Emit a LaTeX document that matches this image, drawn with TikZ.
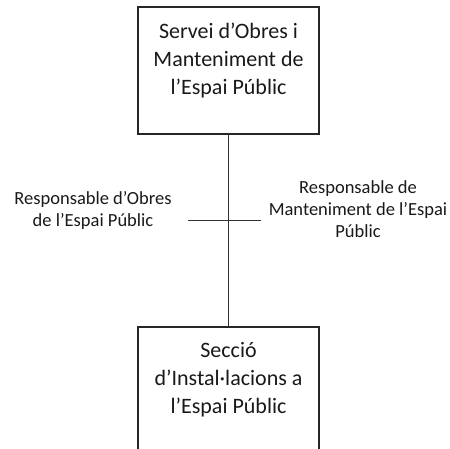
\documentclass[tikz,border=0pt]{standalone}
\usepackage{fontspec}
\setmainfont{Carlito}
\usetikzlibrary{positioning}

\begin{document}
\begin{tikzpicture}[x=1pt,y=-1pt,
      box/.style={draw=black!85,line width=1.3pt,minimum width=181pt,minimum height=127pt,inner sep=0pt},
      boxtext/.style={align=center,font=\fontsize{22}{28}\selectfont,inner sep=0pt,text=black!90},
      role/.style={align=center,font=\fontsize{18.5}{22}\selectfont,inner sep=0pt,text=black!90},
      link/.style={draw=black!80,line width=1pt}]
      \useasboundingbox (0,0) rectangle (450,449);
      \clip (0,0) rectangle (450,449);
      \node[box] (servei) at (228.5,70.5) {};
      \node[box] (seccio) at (228.5,390.5) {};
      \node[boxtext,anchor=north] (servei_t) at ([yshift=-16pt]servei.north) {Servei d’Obres i\\Manteniment de\\l’Espai Públic};
      \node[boxtext,anchor=north] (seccio_t) at ([yshift=-16pt]seccio.north) {Secció\\d’Instal·lacions a\\l’Espai Públic};
      \node[role,anchor=north] (obres) at (93,191) {Responsable d’Obres\\de l’Espai Públic};
      \node[role,anchor=north] (mant) at (358,180) {Responsable de\\Manteniment de l’Espai\\Públic};
      \coordinate (tick_l) at (188,221);
      \coordinate (tick_r) at (261,221);
      \path[link] (servei) edge (seccio);
      \draw[link] (tick_l) -- (tick_r);
\end{tikzpicture}
\end{document}
